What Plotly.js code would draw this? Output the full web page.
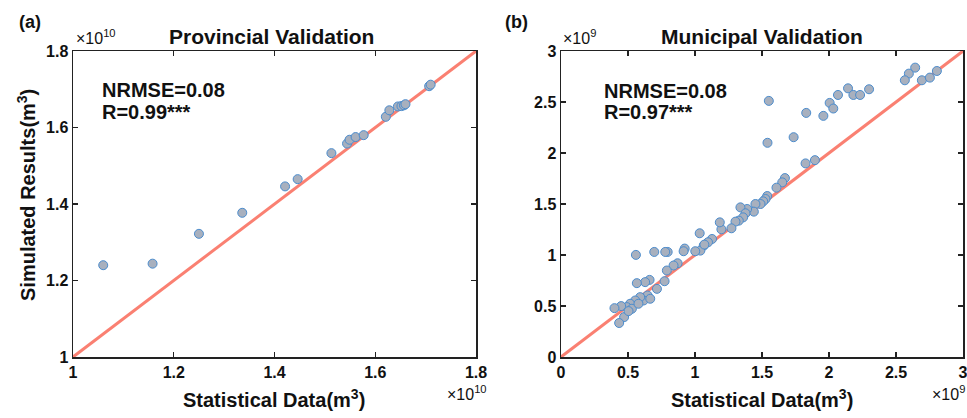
<!DOCTYPE html>
<html>
<head>
<meta charset="utf-8">
<script src="https://cdn.plot.ly/plotly-3.0.1.min.js"></script>
<style>html,body{margin:0;padding:0;background:#fff;}#chart{width:967px;height:418px;}</style>
</head>
<body>
<div id="chart"></div>
<script>
// Provincial validation (units of 1e10 m^3)
const provStat = [1.060, 1.158, 1.250, 1.336, 1.421, 1.446, 1.513, 1.544, 1.549, 1.561, 1.577, 1.621, 1.628, 1.645, 1.652, 1.657, 1.660, 1.707, 1.710];
const provSim  = [1.240, 1.244, 1.322, 1.377, 1.446, 1.465, 1.533, 1.558, 1.568, 1.575, 1.580, 1.628, 1.645, 1.655, 1.656, 1.658, 1.661, 1.708, 1.712];
// Municipal validation (units of 1e9 m^3)
const muniStat = [2.643, 2.596, 2.566, 2.693, 2.753, 2.805, 2.142, 2.182, 2.232, 2.299, 2.067, 2.005, 2.032, 1.958, 1.830, 1.551, 1.541, 1.736, 1.825, 1.895,
  1.671, 1.651, 1.608, 1.539, 1.526, 1.509, 1.489, 1.451, 1.439, 1.389, 1.339, 1.377, 1.359, 1.327, 1.302, 1.272, 1.197, 1.185, 1.127, 1.097,
  1.065, 1.040, 1.002, 1.035, 1.070, 0.923, 0.915, 0.796, 0.778, 0.696, 0.559, 0.870, 0.840, 0.790, 0.773, 0.716, 0.661, 0.628, 0.566, 0.646,
  0.616, 0.666, 0.591, 0.554, 0.516, 0.491, 0.529, 0.449, 0.399, 0.471, 0.434, 0.504, 0.578];
const muniSim  = [2.837, 2.778, 2.713, 2.713, 2.739, 2.804, 2.634, 2.569, 2.569, 2.625, 2.569, 2.491, 2.436, 2.364, 2.393, 2.511, 2.100, 2.155, 1.898, 1.930,
  1.754, 1.712, 1.660, 1.578, 1.549, 1.526, 1.500, 1.500, 1.425, 1.451, 1.467, 1.409, 1.369, 1.337, 1.327, 1.262, 1.252, 1.320, 1.157, 1.125,
  1.092, 1.043, 1.037, 1.213, 1.102, 1.063, 1.037, 1.030, 1.030, 1.030, 1.001, 0.919, 0.897, 0.848, 0.743, 0.668, 0.756, 0.734, 0.724, 0.603,
  0.554, 0.571, 0.587, 0.554, 0.522, 0.489, 0.473, 0.499, 0.479, 0.391, 0.333, 0.450, 0.522];
// 1:1 reference lines
const provLine = [1.0, 1.8];
const muniLine = [0, 3];
const provTicks = [1, 1.2, 1.4, 1.6, 1.8];
const muniTicks = [0, 0.5, 1, 1.5, 2, 2.5, 3];

const W = 967, H = 418;
const px = x => x / W;
const py = y => 1 - y / H;
const FONT = 'Liberation Sans, Arial, sans-serif';
const txt = '#111';

const marker = {size: 9, color: 'rgb(168,176,190)', line: {color: 'rgb(75,140,205)', width: 1}};
const redLine = {color: 'rgb(250,128,114)', width: 3};

const data = [
  {x: provLine, y: provLine, mode: 'lines', line: redLine, xaxis: 'x', yaxis: 'y', hoverinfo: 'skip'},
  {x: provStat, y: provSim, mode: 'markers', marker: marker, xaxis: 'x', yaxis: 'y'},
  {x: muniLine, y: muniLine, mode: 'lines', line: redLine, xaxis: 'x2', yaxis: 'y2', hoverinfo: 'skip'},
  {x: muniStat, y: muniSim, mode: 'markers', marker: marker, xaxis: 'x2', yaxis: 'y2'}
];

const axBase = {
  showline: true, linecolor: '#222', linewidth: 1.5, mirror: 'ticks',
  ticks: 'inside', ticklen: 5, tickwidth: 1.2, tickcolor: '#222',
  showgrid: false, zeroline: false, ticklabeloverflow: 'allow',
  tickfont: {family: FONT, size: 16, color: txt, weight: 'bold'}
};

function ann(text, x, y, opts) {
  return Object.assign({text: text, x: px(x), y: py(y), xref: 'paper', yref: 'paper', showarrow: false,
    font: {family: FONT, size: 20, color: txt, weight: 'bold'}}, opts || {});
}

const annotations = [
  ann('(a)', 17, 22, {xanchor: 'left', yanchor: 'middle', font: {family: FONT, size: 18, color: txt, weight: 'bold'}}),
  ann('(b)', 503, 22, {xanchor: 'left', yanchor: 'middle', font: {family: FONT, size: 18, color: txt, weight: 'bold'}}),
  ann('Provincial Validation', 271, 37, {xanchor: 'center', yanchor: 'middle', font: {family: FONT, size: 21, color: txt, weight: 'bold'}}),
  ann('Municipal Validation', 762, 37, {xanchor: 'center', yanchor: 'middle', font: {family: FONT, size: 21, color: txt, weight: 'bold'}}),
  ann('×10<sup>10</sup>', 74, 49, {xanchor: 'left', yanchor: 'bottom', font: {family: FONT, size: 16, color: txt}}),
  ann('×10<sup>9</sup>', 561, 49, {xanchor: 'left', yanchor: 'bottom', font: {family: FONT, size: 16, color: txt}}),
  ann('×10<sup>10</sup>', 489, 405, {xanchor: 'right', yanchor: 'bottom', font: {family: FONT, size: 16, color: txt}}),
  ann('×10<sup>9</sup>', 967, 405, {xanchor: 'right', yanchor: 'bottom', font: {family: FONT, size: 16, color: txt}}),
  ann('Statistical Data(m<sup>3</sup>)', 274, 398, {xanchor: 'center', yanchor: 'middle'}),
  ann('Statistical Data(m<sup>3</sup>)', 762, 398, {xanchor: 'center', yanchor: 'middle'}),
  ann('Simulated Results(m<sup>3</sup>)', 27, 195, {xanchor: 'center', yanchor: 'middle', textangle: -90}),
  ann('NRMSE=0.08', 100, 90, {xanchor: 'left', yanchor: 'middle'}),
  ann('R=0.99***', 100, 112, {xanchor: 'left', yanchor: 'middle'}),
  ann('NRMSE=0.08', 602, 91, {xanchor: 'left', yanchor: 'middle'}),
  ann('R=0.97***', 602, 112, {xanchor: 'left', yanchor: 'middle'})
];

const layout = {
  width: W, height: H,
  margin: {l: 0, r: 0, t: 0, b: 0},
  paper_bgcolor: '#fff', plot_bgcolor: '#fff',
  showlegend: false,
  xaxis: Object.assign({}, axBase, {domain: [px(73), px(476)], range: [1, 1.8], tickvals: provTicks, anchor: 'y'}),
  yaxis: Object.assign({}, axBase, {domain: [py(357), py(51)], range: [1, 1.8], tickvals: provTicks, anchor: 'x'}),
  xaxis2: Object.assign({}, axBase, {domain: [px(561), px(963)], range: [0, 3], tickvals: muniTicks, anchor: 'y2'}),
  yaxis2: Object.assign({}, axBase, {domain: [py(357), py(51)], range: [0, 3], tickvals: muniTicks, anchor: 'x2'}),
  annotations: annotations
};

Plotly.newPlot('chart', data, layout, {displayModeBar: false, staticPlot: true});
</script>
</body>
</html>
